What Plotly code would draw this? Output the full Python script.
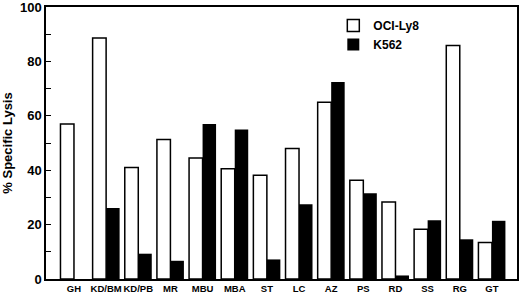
import plotly.graph_objects as go

categories = ["GH", "KD/BM", "KD/PB", "MR", "MBU", "MBA", "ST", "LC", "AZ", "PS", "RD", "SS", "RG", "GT"]
oci_ly8 = [57, 88.6, 41, 51.3, 44.5, 40.5, 38.1, 48, 65, 36.3, 28.3, 18.3, 85.8, 13.4]
k562 = [0, 26.1, 9.3, 6.7, 57, 55, 7.2, 27.5, 72.4, 31.5, 1.3, 21.6, 14.6, 21.4]
y_ticks = [0, 20, 40, 60, 80, 100]

font_family = "Arial, Liberation Sans, Helvetica, sans-serif"

fig = go.Figure()
fig.add_trace(go.Bar(
    x=categories, y=oci_ly8, name="OCI-Ly8",
    marker=dict(color="white", line=dict(color="black", width=1.5)),
))
fig.add_trace(go.Bar(
    x=categories, y=k562, name="K562",
    marker=dict(color="black", line=dict(color="black", width=0)),
))

fig.update_layout(
    width=520, height=297,
    margin=dict(l=46, r=3, t=7, b=18),
    paper_bgcolor="white", plot_bgcolor="white",
    barmode="group", bargap=0.16, bargroupgap=0,
    font=dict(family=font_family, color="black"),
    showlegend=True,
    legend=dict(
        x=0.61, y=0.985, xanchor="left", yanchor="top",
        bgcolor="rgba(0,0,0,0)", borderwidth=0,
        font=dict(size=12, family=font_family, weight="bold"),
        tracegroupgap=0, itemwidth=30,
    ),
)
fig.update_xaxes(
    type="category", range=[-0.87, 13.78], automargin=False,
    showline=True, mirror=True, linecolor="black", linewidth=1.5,
    ticks="", showgrid=False, tickangle=0,
    tickfont=dict(size=9.5, family=font_family, weight="bold"),
)
fig.update_yaxes(
    range=[0, 100], tickvals=y_ticks, automargin=False,
    ticklabeloverflow="allow",
    showline=True, mirror=True, linecolor="black", linewidth=1.5,
    ticks="inside", ticklen=5, tickwidth=1.2, tickcolor="black",
    minor=dict(ticks="inside", ticklen=5, tickwidth=1.2, tickcolor="black", dtick=10, showgrid=False),
    showgrid=False, zeroline=False,
    tickfont=dict(size=13, family=font_family, weight="bold"),
    title=dict(text="% Specific Lysis", font=dict(size=13, family=font_family, weight="bold"), standoff=6),
)

fig.write_html(
    "out.html",
    config={"displayModeBar": False},
    post_script="document.body.style.margin='0';document.body.style.overflow='hidden';",
)
